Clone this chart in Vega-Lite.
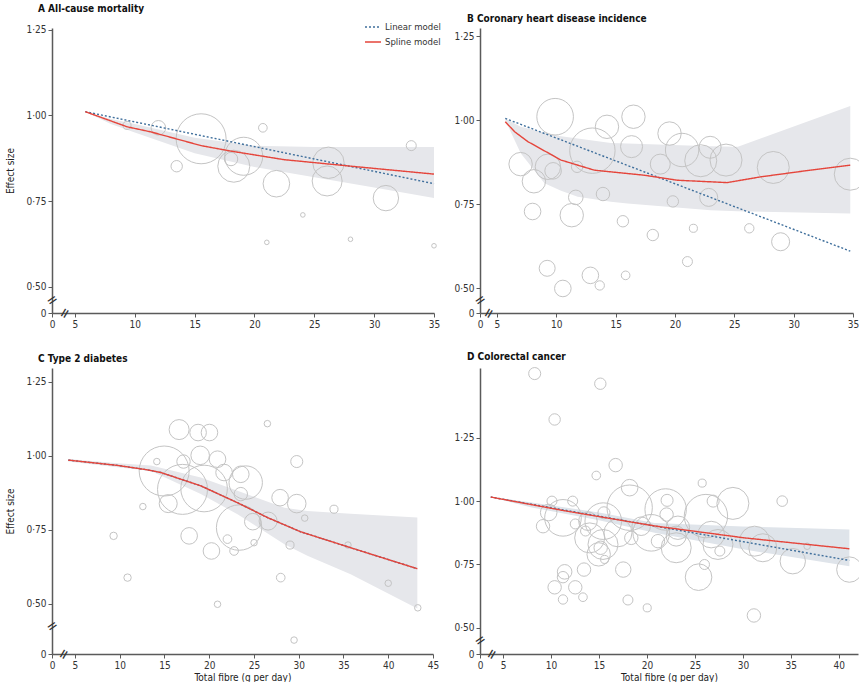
{
  "$schema": "https://vega.github.io/schema/vega-lite/v6.json",
  "padding": {"left": 5, "top": 4, "right": 0, "bottom": 0},
  "spacing": 22,
  "config": {
    "view": {"stroke": null},
    "font": "Liberation Sans Narrow, DejaVu Sans Condensed, sans-serif",
    "axis": {"grid": false, "domainColor": "#5a5a5a", "domainWidth": 1.5, "tickColor": "#5a5a5a", "tickSize": 4, "tickWidth": 1, "labelFontSize": 10, "labelColor": "#333333", "labelFlush": false, "labelOverlap": false, "labelPadding": 2, "titleFontSize": 10, "titleFontWeight": "normal", "titleColor": "#222222"},
    "axisY": {"titlePadding": 10},
    "axisX": {"titlePadding": 2},
    "title": {"fontSize": 10, "fontWeight": "bold", "anchor": "start", "color": "#111111", "baseline": "bottom", "frame": "group"}
  },
  "resolve": {"scale": {"color": "independent", "strokeDash": "independent"}, "legend": {"color": "independent", "strokeDash": "independent"}},
  "datasets": {
    "A_studies": [
      {"fibre": 9.35, "effect": 0.971, "weight": 2.6},
      {"fibre": 11.97, "effect": 0.964, "weight": 8.5},
      {"fibre": 15.54, "effect": 0.932, "weight": 100},
      {"fibre": 20.7, "effect": 0.964, "weight": 3.0},
      {"fibre": 13.5, "effect": 0.852, "weight": 5.2},
      {"fibre": 18.04, "effect": 0.873, "weight": 7.2},
      {"fibre": 19.1, "effect": 0.881, "weight": 57.8},
      {"fibre": 18.27, "effect": 0.852, "weight": 41},
      {"fibre": 21.83, "effect": 0.801, "weight": 28.3},
      {"fibre": 26.18, "effect": 0.862, "weight": 39.4},
      {"fibre": 26.07, "effect": 0.809, "weight": 36},
      {"fibre": 30.98, "effect": 0.759, "weight": 25.8},
      {"fibre": 33.1, "effect": 0.912, "weight": 4},
      {"fibre": 24.04, "effect": 0.71, "weight": 0.85},
      {"fibre": 21.03, "effect": 0.63, "weight": 0.85},
      {"fibre": 28.02, "effect": 0.639, "weight": 0.85},
      {"fibre": 35.0, "effect": 0.62, "weight": 0.85}
    ],
    "A_fit": [
      {"fibre": 5.86, "effect": 1.011, "model": "Linear model"},
      {"fibre": 35, "effect": 0.801, "model": "Linear model"},
      {"fibre": 5.86, "effect": 1.011, "model": "Spline model"},
      {"fibre": 8, "effect": 0.984, "model": "Spline model"},
      {"fibre": 9.35, "effect": 0.967, "model": "Spline model"},
      {"fibre": 11.35, "effect": 0.952, "model": "Spline model"},
      {"fibre": 15.54, "effect": 0.912, "model": "Spline model"},
      {"fibre": 18.04, "effect": 0.896, "model": "Spline model"},
      {"fibre": 22.5, "effect": 0.871, "model": "Spline model"},
      {"fibre": 28.08, "effect": 0.852, "model": "Spline model"},
      {"fibre": 35, "effect": 0.829, "model": "Spline model"}
    ],
    "A_band": [
      {"fibre": 5.86, "lower": 1.011, "upper": 1.011},
      {"fibre": 8, "lower": 0.975, "upper": 0.99},
      {"fibre": 10, "lower": 0.95, "upper": 0.975},
      {"fibre": 15, "lower": 0.89, "upper": 0.935},
      {"fibre": 20, "lower": 0.85, "upper": 0.912},
      {"fibre": 25, "lower": 0.82, "upper": 0.908},
      {"fibre": 30, "lower": 0.79, "upper": 0.908},
      {"fibre": 35, "lower": 0.759, "upper": 0.908}
    ],
    "B_studies": [
      {"fibre": 9.9, "effect": 1.01, "weight": 53.6},
      {"fibre": 6.99, "effect": 0.869, "weight": 21.9},
      {"fibre": 8.11, "effect": 0.818, "weight": 21.9},
      {"fibre": 9.29, "effect": 0.861, "weight": 25.8},
      {"fibre": 9.73, "effect": 0.849, "weight": 11},
      {"fibre": 8.0, "effect": 0.728, "weight": 11},
      {"fibre": 11.3, "effect": 0.717, "weight": 21.9},
      {"fibre": 11.64, "effect": 0.77, "weight": 8.5},
      {"fibre": 11.75, "effect": 0.861, "weight": 5.2},
      {"fibre": 13.04, "effect": 0.909, "weight": 82.4},
      {"fibre": 14.27, "effect": 0.98, "weight": 21.9},
      {"fibre": 16.5, "effect": 1.01, "weight": 21.9},
      {"fibre": 16.34, "effect": 0.921, "weight": 19.4},
      {"fibre": 13.93, "effect": 0.78, "weight": 7.2},
      {"fibre": 15.61, "effect": 0.699, "weight": 5.2},
      {"fibre": 18.13, "effect": 0.658, "weight": 5.2},
      {"fibre": 19.54, "effect": 0.96, "weight": 21.9},
      {"fibre": 18.76, "effect": 0.869, "weight": 16},
      {"fibre": 20.6, "effect": 0.911, "weight": 44.6},
      {"fibre": 19.82, "effect": 0.758, "weight": 5.2},
      {"fibre": 22.17, "effect": 0.879, "weight": 41},
      {"fibre": 22.96, "effect": 0.919, "weight": 19.4},
      {"fibre": 24.3, "effect": 0.881, "weight": 41},
      {"fibre": 22.84, "effect": 0.77, "weight": 13},
      {"fibre": 21.55, "effect": 0.678, "weight": 2.6},
      {"fibre": 21.05, "effect": 0.579, "weight": 4},
      {"fibre": 26.26, "effect": 0.678, "weight": 3.5},
      {"fibre": 28.28, "effect": 0.859, "weight": 41},
      {"fibre": 28.9, "effect": 0.638, "weight": 13},
      {"fibre": 34.77, "effect": 0.839, "weight": 41},
      {"fibre": 9.23, "effect": 0.559, "weight": 10.2},
      {"fibre": 10.55, "effect": 0.499, "weight": 11},
      {"fibre": 12.87, "effect": 0.538, "weight": 11},
      {"fibre": 13.66, "effect": 0.508, "weight": 3.5},
      {"fibre": 15.84, "effect": 0.538, "weight": 3}
    ],
    "B_fit": [
      {"fibre": 5.7, "effect": 1.005, "model": "Linear model"},
      {"fibre": 34.77, "effect": 0.61, "model": "Linear model"},
      {"fibre": 5.7, "effect": 0.995, "model": "Spline model"},
      {"fibre": 6.5, "effect": 0.965, "model": "Spline model"},
      {"fibre": 7.6, "effect": 0.936, "model": "Spline model"},
      {"fibre": 10.4, "effect": 0.881, "model": "Spline model"},
      {"fibre": 13.2, "effect": 0.851, "model": "Spline model"},
      {"fibre": 17.4, "effect": 0.836, "model": "Spline model"},
      {"fibre": 20.2, "effect": 0.821, "model": "Spline model"},
      {"fibre": 24.4, "effect": 0.814, "model": "Spline model"},
      {"fibre": 27.2, "effect": 0.831, "model": "Spline model"},
      {"fibre": 31.4, "effect": 0.851, "model": "Spline model"},
      {"fibre": 34.77, "effect": 0.866, "model": "Spline model"}
    ],
    "B_band": [
      {"fibre": 5.7, "lower": 1.0, "upper": 1.005},
      {"fibre": 7.0, "lower": 0.901, "upper": 0.98},
      {"fibre": 9.0, "lower": 0.812, "upper": 0.962},
      {"fibre": 10.4, "lower": 0.79, "upper": 0.952},
      {"fibre": 11.8, "lower": 0.772, "upper": 0.945},
      {"fibre": 14.6, "lower": 0.757, "upper": 0.932},
      {"fibre": 16, "lower": 0.752, "upper": 0.93},
      {"fibre": 23, "lower": 0.732, "upper": 0.922},
      {"fibre": 25.3, "lower": 0.729, "upper": 0.921},
      {"fibre": 34.77, "lower": 0.722, "upper": 1.042}
    ],
    "C_studies": [
      {"fibre": 16.64, "effect": 1.089, "weight": 16},
      {"fibre": 18.76, "effect": 1.079, "weight": 11},
      {"fibre": 20.03, "effect": 1.079, "weight": 11},
      {"fibre": 26.5, "effect": 1.109, "weight": 1.7},
      {"fibre": 14.97, "effect": 0.949, "weight": 100},
      {"fibre": 14.15, "effect": 0.981, "weight": 1.7},
      {"fibre": 17.13, "effect": 0.981, "weight": 7.2},
      {"fibre": 18.99, "effect": 1.002, "weight": 13.8},
      {"fibre": 20.93, "effect": 0.989, "weight": 11},
      {"fibre": 17.02, "effect": 0.887, "weight": 100},
      {"fibre": 19.43, "effect": 0.89, "weight": 86.9},
      {"fibre": 21.66, "effect": 0.944, "weight": 11},
      {"fibre": 23.53, "effect": 0.938, "weight": 11},
      {"fibre": 24.08, "effect": 0.91, "weight": 44.6},
      {"fibre": 15.42, "effect": 0.839, "weight": 13},
      {"fibre": 12.59, "effect": 0.829, "weight": 1.7},
      {"fibre": 23.53, "effect": 0.871, "weight": 7.2},
      {"fibre": 23.34, "effect": 0.758, "weight": 82.4},
      {"fibre": 24.87, "effect": 0.778, "weight": 11},
      {"fibre": 26.58, "effect": 0.78, "weight": 13},
      {"fibre": 27.92, "effect": 0.859, "weight": 11},
      {"fibre": 29.78, "effect": 0.839, "weight": 13.8},
      {"fibre": 29.78, "effect": 0.981, "weight": 5.8},
      {"fibre": 30.67, "effect": 0.79, "weight": 1.7},
      {"fibre": 33.94, "effect": 0.82, "weight": 2.6},
      {"fibre": 17.76, "effect": 0.73, "weight": 11},
      {"fibre": 20.25, "effect": 0.679, "weight": 11},
      {"fibre": 22.04, "effect": 0.719, "weight": 3},
      {"fibre": 22.78, "effect": 0.679, "weight": 3},
      {"fibre": 25.01, "effect": 0.707, "weight": 1.7},
      {"fibre": 29.03, "effect": 0.699, "weight": 2.6},
      {"fibre": 35.5, "effect": 0.699, "weight": 1.7},
      {"fibre": 9.32, "effect": 0.73, "weight": 2.2},
      {"fibre": 10.88, "effect": 0.589, "weight": 2.2},
      {"fibre": 27.99, "effect": 0.589, "weight": 3},
      {"fibre": 20.93, "effect": 0.499, "weight": 1.7},
      {"fibre": 40.0, "effect": 0.57, "weight": 1.7},
      {"fibre": 43.3, "effect": 0.487, "weight": 1.7},
      {"fibre": 29.48, "effect": 0.378, "weight": 1.7}
    ],
    "C_fit": [
      {"fibre": 4.25, "effect": 0.986, "model": "Linear model"},
      {"fibre": 9.76, "effect": 0.968, "model": "Linear model"},
      {"fibre": 13.1, "effect": 0.953, "model": "Linear model"},
      {"fibre": 14.6, "effect": 0.944, "model": "Linear model"},
      {"fibre": 19.06, "effect": 0.899, "model": "Linear model"},
      {"fibre": 23.16, "effect": 0.842, "model": "Linear model"},
      {"fibre": 26.5, "effect": 0.792, "model": "Linear model"},
      {"fibre": 30.2, "effect": 0.744, "model": "Linear model"},
      {"fibre": 35.8, "effect": 0.69, "model": "Linear model"},
      {"fibre": 43.25, "effect": 0.619, "model": "Linear model"},
      {"fibre": 4.25, "effect": 0.986, "model": "Spline model"},
      {"fibre": 9.76, "effect": 0.968, "model": "Spline model"},
      {"fibre": 13.1, "effect": 0.953, "model": "Spline model"},
      {"fibre": 14.6, "effect": 0.944, "model": "Spline model"},
      {"fibre": 19.06, "effect": 0.899, "model": "Spline model"},
      {"fibre": 23.16, "effect": 0.842, "model": "Spline model"},
      {"fibre": 26.5, "effect": 0.792, "model": "Spline model"},
      {"fibre": 30.2, "effect": 0.744, "model": "Spline model"},
      {"fibre": 35.8, "effect": 0.69, "model": "Spline model"},
      {"fibre": 43.25, "effect": 0.619, "model": "Spline model"}
    ],
    "C_band": [
      {"fibre": 4.25, "lower": 0.981, "upper": 0.99},
      {"fibre": 9.76, "lower": 0.962, "upper": 0.975},
      {"fibre": 13.5, "lower": 0.949, "upper": 0.968},
      {"fibre": 19.06, "lower": 0.871, "upper": 0.927},
      {"fibre": 23.16, "lower": 0.803, "upper": 0.882},
      {"fibre": 28.4, "lower": 0.702, "upper": 0.825},
      {"fibre": 30.97, "lower": 0.663, "upper": 0.814},
      {"fibre": 35.8, "lower": 0.6, "upper": 0.805},
      {"fibre": 43.25, "lower": 0.485, "upper": 0.792}
    ],
    "D_studies": [
      {"fibre": 8.3, "effect": 1.503, "weight": 5.8},
      {"fibre": 15.14, "effect": 1.463, "weight": 5.2},
      {"fibre": 10.38, "effect": 1.322, "weight": 5.2},
      {"fibre": 16.74, "effect": 1.142, "weight": 7.2},
      {"fibre": 14.72, "effect": 1.101, "weight": 3},
      {"fibre": 25.76, "effect": 1.071, "weight": 2.6},
      {"fibre": 34.1, "effect": 1.0, "weight": 4.5},
      {"fibre": 10.1, "effect": 1.0, "weight": 4},
      {"fibre": 12.26, "effect": 1.0, "weight": 4},
      {"fibre": 9.76, "effect": 0.955, "weight": 11},
      {"fibre": 11.25, "effect": 0.934, "weight": 53.6},
      {"fibre": 9.17, "effect": 0.901, "weight": 7.2},
      {"fibre": 18.2, "effect": 1.053, "weight": 11},
      {"fibre": 18.2, "effect": 0.974, "weight": 82.4},
      {"fibre": 22.1, "effect": 1.003, "weight": 5.8},
      {"fibre": 21.95, "effect": 0.967, "weight": 68.6},
      {"fibre": 22.05, "effect": 0.947, "weight": 7.2},
      {"fibre": 26.15, "effect": 0.941, "weight": 75.3},
      {"fibre": 26.9, "effect": 1.0, "weight": 5.8},
      {"fibre": 28.96, "effect": 0.991, "weight": 41},
      {"fibre": 15.45, "effect": 0.921, "weight": 53.6},
      {"fibre": 15.52, "effect": 0.954, "weight": 5.8},
      {"fibre": 13.85, "effect": 0.921, "weight": 13.8},
      {"fibre": 12.53, "effect": 0.91, "weight": 4},
      {"fibre": 19.4, "effect": 0.901, "weight": 13.8},
      {"fibre": 16.98, "effect": 0.875, "weight": 31.4},
      {"fibre": 20.45, "effect": 0.875, "weight": 53.6},
      {"fibre": 23.23, "effect": 0.895, "weight": 21.9},
      {"fibre": 18.37, "effect": 0.855, "weight": 7.2},
      {"fibre": 15.42, "effect": 0.829, "weight": 36},
      {"fibre": 13.6, "effect": 0.882, "weight": 4},
      {"fibre": 15.18, "effect": 0.816, "weight": 7.2},
      {"fibre": 14.97, "effect": 0.79, "weight": 21.9},
      {"fibre": 15.59, "effect": 0.77, "weight": 2.6},
      {"fibre": 23.05, "effect": 0.816, "weight": 36},
      {"fibre": 21.15, "effect": 0.842, "weight": 7.2},
      {"fibre": 23.05, "effect": 0.862, "weight": 16},
      {"fibre": 26.7, "effect": 0.868, "weight": 28.3},
      {"fibre": 27.4, "effect": 0.829, "weight": 36},
      {"fibre": 27.6, "effect": 0.803, "weight": 4},
      {"fibre": 26.0, "effect": 0.75, "weight": 4},
      {"fibre": 25.38, "effect": 0.7, "weight": 28.3},
      {"fibre": 31.22, "effect": 0.842, "weight": 36},
      {"fibre": 32.08, "effect": 0.816, "weight": 31.4},
      {"fibre": 35.2, "effect": 0.763, "weight": 25.8},
      {"fibre": 36.7, "effect": 0.822, "weight": 1.7},
      {"fibre": 41.1, "effect": 0.73, "weight": 25.8},
      {"fibre": 17.53, "effect": 0.73, "weight": 9.5},
      {"fibre": 13.44, "effect": 0.73, "weight": 7.2},
      {"fibre": 11.42, "effect": 0.721, "weight": 8.5},
      {"fibre": 11.25, "effect": 0.7, "weight": 5.2},
      {"fibre": 10.38, "effect": 0.66, "weight": 7.2},
      {"fibre": 12.53, "effect": 0.66, "weight": 7.2},
      {"fibre": 11.25, "effect": 0.612, "weight": 3.5},
      {"fibre": 13.33, "effect": 0.621, "weight": 3},
      {"fibre": 18.02, "effect": 0.61, "weight": 4},
      {"fibre": 20.03, "effect": 0.579, "weight": 2.6},
      {"fibre": 31.15, "effect": 0.549, "weight": 7.2},
      {"fibre": 14.03, "effect": 0.855, "weight": 36}
    ],
    "D_fit": [
      {"fibre": 3.72, "effect": 1.016, "model": "Linear model"},
      {"fibre": 41.1, "effect": 0.766, "model": "Linear model"},
      {"fibre": 3.72, "effect": 1.016, "model": "Spline model"},
      {"fibre": 11.4, "effect": 0.962, "model": "Spline model"},
      {"fibre": 20.8, "effect": 0.902, "model": "Spline model"},
      {"fibre": 30.17, "effect": 0.855, "model": "Spline model"},
      {"fibre": 41.1, "effect": 0.812, "model": "Spline model"}
    ],
    "D_band": [
      {"fibre": 3.72, "lower": 1.016, "upper": 1.016},
      {"fibre": 8, "lower": 0.975, "upper": 0.995},
      {"fibre": 15, "lower": 0.925, "upper": 0.955},
      {"fibre": 20.8, "lower": 0.875, "upper": 0.914},
      {"fibre": 30, "lower": 0.81, "upper": 0.9},
      {"fibre": 41.1, "lower": 0.743, "upper": 0.888}
    ],
    "one": [{"k": 1}]
  },
  "vconcat": [
    {
      "spacing": 12,
      "resolve": {"scale": {"color": "independent", "strokeDash": "independent"}, "legend": {"color": "independent", "strokeDash": "independent"}},
      "hconcat": [
        {
          "width": 382, "height": 285,
          "title": {"text": "A  All-cause mortality", "dx": -14, "offset": 4},
          "layer": [
            {"data": {"name": "A_band"}, "mark": {"type": "area", "color": "#e6e7eb"}, "encoding": {
              "x": {"field": "fibre", "type": "quantitative", "title": null, "scale": {"domain": [3.08, 35], "nice": false, "zero": false}, "axis": {"values": [3.08, 5, 10, 15, 20, 25, 30, 35], "labelExpr": "datum.value < 4.5 ? '0' : format(datum.value, 'd')"}},
              "y": {"field": "lower", "type": "quantitative", "title": "Effect size", "scale": {"domain": [0.424, 1.255], "nice": false, "zero": false}, "axis": {"values": [0.424, 0.5, 0.75, 1, 1.25], "labelExpr": "datum.value < 0.45 ? '0' : replace(format(datum.value, '.2f'), '.', '·')"}},
              "y2": {"field": "upper"}}},
            {"data": {"name": "A_studies"}, "mark": {"type": "point", "shape": "circle", "filled": false, "stroke": "#c4c4c4", "strokeWidth": 1, "opacity": 1}, "encoding": {
              "x": {"field": "fibre", "type": "quantitative", "title": null},
              "y": {"field": "effect", "type": "quantitative", "title": "Effect size"},
              "size": {"field": "weight", "type": "quantitative", "scale": {"domain": [0, 100], "range": [0, 2500]}, "legend": null}}},
            {"data": {"name": "A_fit"}, "mark": {"type": "line", "strokeWidth": 1.4}, "encoding": {
              "x": {"field": "fibre", "type": "quantitative", "title": null},
              "y": {"field": "effect", "type": "quantitative", "title": "Effect size"},
              "color": {"field": "model", "type": "nominal", "scale": {"domain": ["Linear model", "Spline model"], "range": ["#3f6f9c", "#e5453b"]}, "legend": {"title": null, "orient": "none", "legendX": 312, "legendY": -10, "padding": 0, "symbolType": "stroke", "symbolSize": 256, "symbolStrokeWidth": 1.5, "labelFontSize": 9.5, "labelColor": "#333333", "rowPadding": 1, "labelOffset": 3}},
              "strokeDash": {"field": "model", "type": "nominal", "scale": {"domain": ["Linear model", "Spline model"], "range": [[2, 2], [1, 0]]}, "legend": {"title": null, "orient": "none", "legendX": 312, "legendY": -10, "padding": 0, "symbolType": "stroke", "symbolSize": 256, "symbolStrokeWidth": 1.5, "labelFontSize": 9.5, "labelColor": "#333333", "rowPadding": 1, "labelOffset": 3}}
            }},
            {"data": {"name": "one"}, "mark": {"type": "text", "text": "=", "angle": -60, "fontSize": 15, "align": "center", "baseline": "middle", "color": "#333333"}, "encoding": {"x": {"datum": 4.13, "type": "quantitative", "title": null}, "y": {"datum": 0.424, "type": "quantitative", "title": "Effect size"}}},
            {"data": {"name": "one"}, "mark": {"type": "text", "text": "=", "angle": -35, "fontSize": 15, "align": "center", "baseline": "middle", "color": "#333333"}, "encoding": {"x": {"datum": 3.08, "type": "quantitative", "title": null}, "y": {"datum": 0.462, "type": "quantitative", "title": "Effect size"}}}
          ]
        },
        {
          "width": 373, "height": 285,
          "title": {"text": "B  Coronary heart disease incidence", "dx": -13, "offset": 4},
          "layer": [
            {"data": {"name": "B_band"}, "mark": {"type": "area", "color": "#e6e7eb"}, "encoding": {
              "x": {"field": "fibre", "type": "quantitative", "title": null, "scale": {"domain": [3.57, 35], "nice": false, "zero": false}, "axis": {"values": [3.57, 5, 10, 15, 20, 25, 30, 35], "labelExpr": "datum.value < 4.5 ? '0' : format(datum.value, 'd')"}},
              "y": {"field": "lower", "type": "quantitative", "title": null, "scale": {"domain": [0.426, 1.274], "nice": false, "zero": false}, "axis": {"values": [0.426, 0.5, 0.75, 1, 1.25], "labelExpr": "datum.value < 0.45 ? '0' : replace(format(datum.value, '.2f'), '.', '·')"}},
              "y2": {"field": "upper"}}},
            {"data": {"name": "B_studies"}, "mark": {"type": "point", "shape": "circle", "filled": false, "stroke": "#c4c4c4", "strokeWidth": 1, "opacity": 1}, "encoding": {
              "x": {"field": "fibre", "type": "quantitative", "title": null},
              "y": {"field": "effect", "type": "quantitative", "title": null},
              "size": {"field": "weight", "type": "quantitative", "scale": {"domain": [0, 100], "range": [0, 2500]}, "legend": null}}},
            {"data": {"name": "B_fit"}, "mark": {"type": "line", "strokeWidth": 1.4}, "encoding": {
              "x": {"field": "fibre", "type": "quantitative", "title": null},
              "y": {"field": "effect", "type": "quantitative", "title": null},
              "color": {"field": "model", "type": "nominal", "scale": {"domain": ["Linear model", "Spline model"], "range": ["#3f6f9c", "#e5453b"]}, "legend": null},
              "strokeDash": {"field": "model", "type": "nominal", "scale": {"domain": ["Linear model", "Spline model"], "range": [[2, 2], [1, 0]]}, "legend": null}
            }},
            {"data": {"name": "one"}, "mark": {"type": "text", "text": "=", "angle": -60, "fontSize": 15, "align": "center", "baseline": "middle", "color": "#333333"}, "encoding": {"x": {"datum": 4.28, "type": "quantitative", "title": null}, "y": {"datum": 0.426, "type": "quantitative", "title": null}}},
            {"data": {"name": "one"}, "mark": {"type": "text", "text": "=", "angle": -35, "fontSize": 15, "align": "center", "baseline": "middle", "color": "#333333"}, "encoding": {"x": {"datum": 3.57, "type": "quantitative", "title": null}, "y": {"datum": 0.465, "type": "quantitative", "title": null}}}
          ]
        }
      ]
    },
    {
      "spacing": 14,
      "resolve": {"scale": {"color": "independent", "strokeDash": "independent"}, "legend": {"color": "independent", "strokeDash": "independent"}},
      "hconcat": [
        {
          "width": 381, "height": 286,
          "title": {"text": "C  Type 2 diabetes", "dx": -14, "offset": 4},
          "layer": [
            {"data": {"name": "C_band"}, "mark": {"type": "area", "color": "#e6e7eb"}, "encoding": {
              "x": {"field": "fibre", "type": "quantitative", "title": "Total fibre (g per day)", "scale": {"domain": [2.44, 45], "nice": false, "zero": false}, "axis": {"values": [2.44, 5, 10, 15, 20, 25, 30, 35, 40, 45], "labelExpr": "datum.value < 4.5 ? '0' : format(datum.value, 'd')"}},
              "y": {"field": "lower", "type": "quantitative", "title": "Effect size", "scale": {"domain": [0.331, 1.297], "nice": false, "zero": false}, "axis": {"values": [0.331, 0.5, 0.75, 1, 1.25], "labelExpr": "datum.value < 0.45 ? '0' : replace(format(datum.value, '.2f'), '.', '·')"}},
              "y2": {"field": "upper"}}},
            {"data": {"name": "C_studies"}, "mark": {"type": "point", "shape": "circle", "filled": false, "stroke": "#c4c4c4", "strokeWidth": 1, "opacity": 1}, "encoding": {
              "x": {"field": "fibre", "type": "quantitative", "title": "Total fibre (g per day)"},
              "y": {"field": "effect", "type": "quantitative", "title": "Effect size"},
              "size": {"field": "weight", "type": "quantitative", "scale": {"domain": [0, 100], "range": [0, 2500]}, "legend": null}}},
            {"data": {"name": "C_fit"}, "mark": {"type": "line", "strokeWidth": 1.4}, "encoding": {
              "x": {"field": "fibre", "type": "quantitative", "title": "Total fibre (g per day)"},
              "y": {"field": "effect", "type": "quantitative", "title": "Effect size"},
              "color": {"field": "model", "type": "nominal", "scale": {"domain": ["Linear model", "Spline model"], "range": ["#3f6f9c", "#e5453b"]}, "legend": null},
              "strokeDash": {"field": "model", "type": "nominal", "scale": {"domain": ["Linear model", "Spline model"], "range": [[2, 2], [1, 0]]}, "legend": null}
            }},
            {"data": {"name": "one"}, "mark": {"type": "text", "text": "=", "angle": -60, "fontSize": 15, "align": "center", "baseline": "middle", "color": "#333333"}, "encoding": {"x": {"datum": 3.72, "type": "quantitative", "title": "Total fibre (g per day)"}, "y": {"datum": 0.331, "type": "quantitative", "title": "Effect size"}}},
            {"data": {"name": "one"}, "mark": {"type": "text", "text": "=", "angle": -35, "fontSize": 15, "align": "center", "baseline": "middle", "color": "#333333"}, "encoding": {"x": {"datum": 2.44, "type": "quantitative", "title": "Total fibre (g per day)"}, "y": {"datum": 0.426, "type": "quantitative", "title": "Effect size"}}}
          ]
        },
        {
          "width": 378, "height": 286,
          "title": {"text": "D  Colorectal cancer", "dx": -13, "offset": 4},
          "layer": [
            {"data": {"name": "D_band"}, "mark": {"type": "area", "color": "#dfe4ea"}, "encoding": {
              "x": {"field": "fibre", "type": "quantitative", "title": "Total fibre (g per day)", "scale": {"domain": [2.6, 42], "nice": false, "zero": false}, "axis": {"values": [2.6, 5, 10, 15, 20, 25, 30, 35, 40], "labelExpr": "datum.value < 4.5 ? '0' : format(datum.value, 'd')"}},
              "y": {"field": "lower", "type": "quantitative", "title": null, "scale": {"domain": [0.397, 1.525], "nice": false, "zero": false}, "axis": {"values": [0.397, 0.5, 0.75, 1, 1.25], "labelExpr": "datum.value < 0.45 ? '0' : replace(format(datum.value, '.2f'), '.', '·')"}},
              "y2": {"field": "upper"}}},
            {"data": {"name": "D_studies"}, "mark": {"type": "point", "shape": "circle", "filled": false, "stroke": "#c4c4c4", "strokeWidth": 1, "opacity": 1}, "encoding": {
              "x": {"field": "fibre", "type": "quantitative", "title": "Total fibre (g per day)"},
              "y": {"field": "effect", "type": "quantitative", "title": null},
              "size": {"field": "weight", "type": "quantitative", "scale": {"domain": [0, 100], "range": [0, 2500]}, "legend": null}}},
            {"data": {"name": "D_fit"}, "mark": {"type": "line", "strokeWidth": 1.4}, "encoding": {
              "x": {"field": "fibre", "type": "quantitative", "title": "Total fibre (g per day)"},
              "y": {"field": "effect", "type": "quantitative", "title": null},
              "color": {"field": "model", "type": "nominal", "scale": {"domain": ["Linear model", "Spline model"], "range": ["#3f6f9c", "#e5453b"]}, "legend": null},
              "strokeDash": {"field": "model", "type": "nominal", "scale": {"domain": ["Linear model", "Spline model"], "range": [[2, 2], [1, 0]]}, "legend": null}
            }},
            {"data": {"name": "one"}, "mark": {"type": "text", "text": "=", "angle": -60, "fontSize": 15, "align": "center", "baseline": "middle", "color": "#333333"}, "encoding": {"x": {"datum": 3.8, "type": "quantitative", "title": "Total fibre (g per day)"}, "y": {"datum": 0.397, "type": "quantitative", "title": null}}},
            {"data": {"name": "one"}, "mark": {"type": "text", "text": "=", "angle": -35, "fontSize": 15, "align": "center", "baseline": "middle", "color": "#333333"}, "encoding": {"x": {"datum": 2.6, "type": "quantitative", "title": "Total fibre (g per day)"}, "y": {"datum": 0.452, "type": "quantitative", "title": null}}}
          ]
        }
      ]
    }
  ]
}
